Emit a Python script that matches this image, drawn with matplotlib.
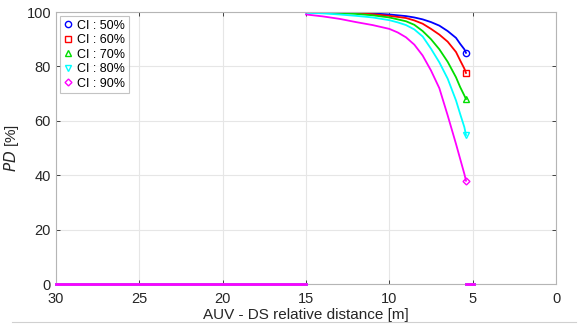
import numpy as np
import matplotlib
matplotlib.use('Agg')
import matplotlib.pyplot as plt
from matplotlib.lines import Line2D

plt.rcParams['font.family'] = ['Liberation Sans', 'DejaVu Sans']

# distanza relativa AUV - DS [m]
dist = [15, 14, 13, 12, 11, 10, 9.5, 9, 8.5, 8, 7.5, 7, 6.5, 6, 5.75, 5.5, 5.4]
pd_50 = [100, 99.97, 99.9, 99.8, 99.5, 99.1, 98.8, 98.5, 98.0, 97.3, 96.3, 95.0, 93.0, 90.5, 88.3, 86.3, 85.0]
pd_60 = [100, 99.9, 99.8, 99.6, 99.2, 98.6, 98.2, 97.8, 96.9, 95.7, 93.8, 91.7, 89.1, 85.3, 82.2, 79.2, 77.6]
pd_70 = [100, 99.8, 99.6, 99.3, 98.8, 98.0, 97.3, 96.6, 95.3, 93.0, 90.0, 86.3, 81.7, 76.0, 72.4, 69.3, 68.0]
pd_80 = [99.7, 99.5, 99.1, 98.6, 98.0, 97.0, 96.2, 95.2, 93.6, 91.0, 86.5, 81.5, 75.5, 67.5, 62.5, 57.7, 54.8]
pd_90 = [99.1, 98.4, 97.5, 96.3, 95.2, 93.8, 92.5, 90.7, 88.0, 84.0, 78.5, 72.0, 62.0, 51.5, 46.0, 40.5, 38.0]

# tratti a PD nullo
dist_far = [30, 15]
dist_near = [5.4, 4.9]
pd_zero = [0, 0]

labels = ['CI : 50%', 'CI : 60%', 'CI : 70%', 'CI : 80%', 'CI : 90%']
colors = ['#0000ff', '#ff0000', '#00dd00', '#00ffff', '#ff00ff']
markers = ['o', 's', '^', 'v', 'D']
series = [pd_50, pd_60, pd_70, pd_80, pd_90]

fig = plt.figure(figsize=(5.88, 3.25), dpi=100)
ax = fig.add_axes([0.0952, 0.126, 0.8504, 0.837])

for vals, c, m, lab in zip(series, colors, markers, labels):
    ax.plot(dist, vals, color=c, lw=1.3)
    ax.plot(dist_far, pd_zero, color=c, lw=2.0, clip_on=False, zorder=4)
    ax.plot(dist_near, pd_zero, color=c, lw=2.0, clip_on=False, zorder=4)
    ms = 3.5 if m == 'D' else 4.5
    ax.plot(dist[-1], vals[-1], marker=m, color=c, mfc='none', ms=ms, mew=1.0,
            ls='none', label=lab)

ax.set_xlim(30, 0)
ax.set_ylim(0, 100)
ax.set_xticks([30, 25, 20, 15, 10, 5, 0])
ax.set_yticks([0, 20, 40, 60, 80, 100])
ax.grid(True, color='#e6e6e6', lw=0.8)
ax.set_axisbelow(True)
ax.tick_params(direction='in', top=True, right=True, labelsize=10.5,
               colors='#262626', length=3, width=0.6)
ax.tick_params(axis='x', pad=6)
for s in ax.spines.values():
    s.set_color('#b5b5b5')
    s.set_linewidth(0.8)

ax.set_xlabel('AUV - DS relative distance [m]', fontsize=11, color='#262626', labelpad=1)
ax.set_ylabel(r'$\it{PD}$ [%]', fontsize=11, color='#262626', labelpad=4)

leg = ax.legend(loc='upper left', fontsize=9, frameon=True, fancybox=False,
                handlelength=0.7, handletextpad=0.4, borderaxespad=0.3,
                labelspacing=0.2, borderpad=0.3)
leg.get_frame().set_edgecolor('#b5b5b5')
leg.get_frame().set_linewidth(0.8)

# linea grigia in fondo alla figura
fig.add_artist(Line2D([0.02, 0.98], [0.01, 0.01], color='#d0d0d0', lw=0.8))

fig.savefig('out.png', dpi=100)
